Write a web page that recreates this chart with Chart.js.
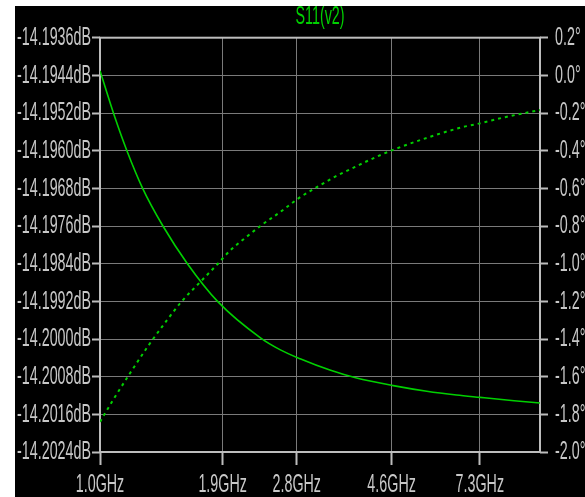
<!DOCTYPE html>
<html><head><meta charset="utf-8">
<script src="https://cdn.jsdelivr.net/npm/chart.js@4.4.1/dist/chart.umd.min.js"></script>
<style>
html,body{margin:0;padding:0;background:#fff;width:585px;height:497px;overflow:hidden}
#c{position:absolute;left:15px;top:6px;background:#000}
</style></head><body>
<canvas id="c" width="570" height="491"></canvas>
<script>
const chartTitle = 'S11(v2)';
const xTicksGHz = [1.0, 1.9, 2.8, 4.6, 7.3];
const magTicksDb = [-14.1936, -14.1944, -14.1952, -14.1960, -14.1968, -14.1976, -14.1984, -14.1992, -14.2000, -14.2008, -14.2016, -14.2024];
const phaseTicksDeg = [0.2, 0.0, -0.2, -0.4, -0.6, -0.8, -1.0, -1.2, -1.4, -1.6, -1.8, -2.0];

const magFreqGHz = [1.00, 1.08, 1.15, 1.25, 1.39, 1.58, 1.85, 2.32, 2.57, 2.85, 3.33, 3.83, 4.64, 5.53, 6.46, 7.31, 8.73, 10.0];
const magDb = [-14.19430, -14.19528, -14.19599, -14.19680, -14.19760, -14.19840, -14.19920, -14.19998, -14.20023, -14.20042, -14.20066, -14.20083, -14.20099, -14.20111, -14.20119, -14.20124, -14.20131, -14.20136];

const phaseFreqGHz = [1.00, 1.07, 1.17, 1.29, 1.42, 1.53, 1.69, 1.84, 1.98, 2.12, 2.33, 2.57, 2.83, 3.13, 3.44, 3.80, 4.20, 4.62, 5.63, 6.64, 7.30, 8.33, 10.0];
const phaseDeg = [-1.84, -1.725, -1.582, -1.433, -1.30, -1.203, -1.097, -1.008, -0.928, -0.870, -0.795, -0.725, -0.652, -0.590, -0.535, -0.486, -0.438, -0.397, -0.326, -0.276, -0.255, -0.222, -0.184];

const GREEN = '#00d000';
const TEXT = '#c8c8c8';
const FRAME = '#bdbdbd';
const GRID = '#7a7a7a';
const SX = 0.55;
const FONT = {family: 'Liberation Sans', size: 26};

const condense = {
  id: 'condense',
  beforeInit(chart) {
    const ctx = chart.ctx;
    const orig = ctx.fillText;
    ctx.fillText = function (t, x, y, m) {
      this.save();
      this.translate(x, y);
      this.scale(SX, 1);
      orig.call(this, t, 0, 0);
      this.restore();
    };
  }
};
const frame = {
  id: 'frame',
  beforeDatasetsDraw(chart) {
    const a = chart.chartArea, ctx = chart.ctx;
    ctx.save();
    ctx.strokeStyle = FRAME;
    ctx.lineWidth = 2;
    ctx.strokeRect(a.left, a.top, a.right - a.left, a.bottom - a.top);
    ctx.restore();
  }
};

const setTicks = arr => scale => { scale.ticks = arr.map(v => ({value: v})); };

new Chart(document.getElementById('c'), {
  type: 'line',
  data: {
    datasets: [
      {
        label: 'mag', yAxisID: 'yL',
        data: magFreqGHz.map((f, i) => ({x: f, y: magDb[i]})),
        borderColor: GREEN, borderWidth: 1.6, pointRadius: 0,
        cubicInterpolationMode: 'monotone', fill: false
      },
      {
        label: 'phase', yAxisID: 'yR',
        data: phaseFreqGHz.map((f, i) => ({x: f, y: phaseDeg[i]})),
        borderColor: GREEN, borderWidth: 2, borderDash: [3, 4], pointRadius: 0,
        cubicInterpolationMode: 'monotone', fill: false
      }
    ]
  },
  options: {
    responsive: false,
    animation: false,
    devicePixelRatio: 1,
    layout: {padding: 0},
    plugins: {
      legend: {display: false},
      tooltip: {enabled: false},
      title: {
        display: true, text: chartTitle, color: GREEN, fullSize: false,
        font: {family: 'Liberation Sans', size: 26, weight: 'normal', lineHeight: 0.85},
        padding: {top: 0, bottom: 9.6}
      }
    },
    scales: {
      x: {
        type: 'logarithmic', min: 1, max: 10, position: 'bottom',
        afterBuildTicks: setTicks(xTicksGHz),
        afterFit: s => { s.height = 45; },
        ticks: {
          autoSkip: false, maxRotation: 0, color: TEXT, font: FONT, padding: 4,
          callback: v => Number(v).toFixed(1) + 'GHz'
        },
        grid: {
          color: GRID, lineWidth: 1, borderDash: [7, 5],
          tickLength: 13, tickColor: FRAME, tickWidth: 2, tickBorderDash: []
        },
        border: {display: false}
      },
      yL: {
        type: 'linear', position: 'left', min: -14.2024, max: -14.1936,
        afterBuildTicks: setTicks(magTicksDb),
        afterFit: s => { s.width = 85; },
        ticks: {
          autoSkip: false, color: TEXT, font: FONT, padding: 1,
          callback: v => Number(v).toFixed(4) + 'dB'
        },
        grid: {
          color: GRID, lineWidth: 1, borderDash: [3, 3],
          tickLength: 8, tickColor: FRAME, tickWidth: 2, tickBorderDash: []
        },
        border: {display: false}
      },
      yR: {
        type: 'linear', position: 'right', min: -2.0, max: 0.2,
        afterBuildTicks: setTicks(phaseTicksDeg),
        afterFit: s => { s.width = 45; },
        ticks: {
          autoSkip: false, color: TEXT, font: FONT, padding: 7,
          callback: v => Number(v).toFixed(1) + '°'
        },
        grid: {
          drawOnChartArea: false,
          tickLength: 8, tickColor: FRAME, tickWidth: 2, tickBorderDash: []
        },
        border: {display: false}
      }
    }
  },
  plugins: [condense, frame]
});
</script>
</body></html>
